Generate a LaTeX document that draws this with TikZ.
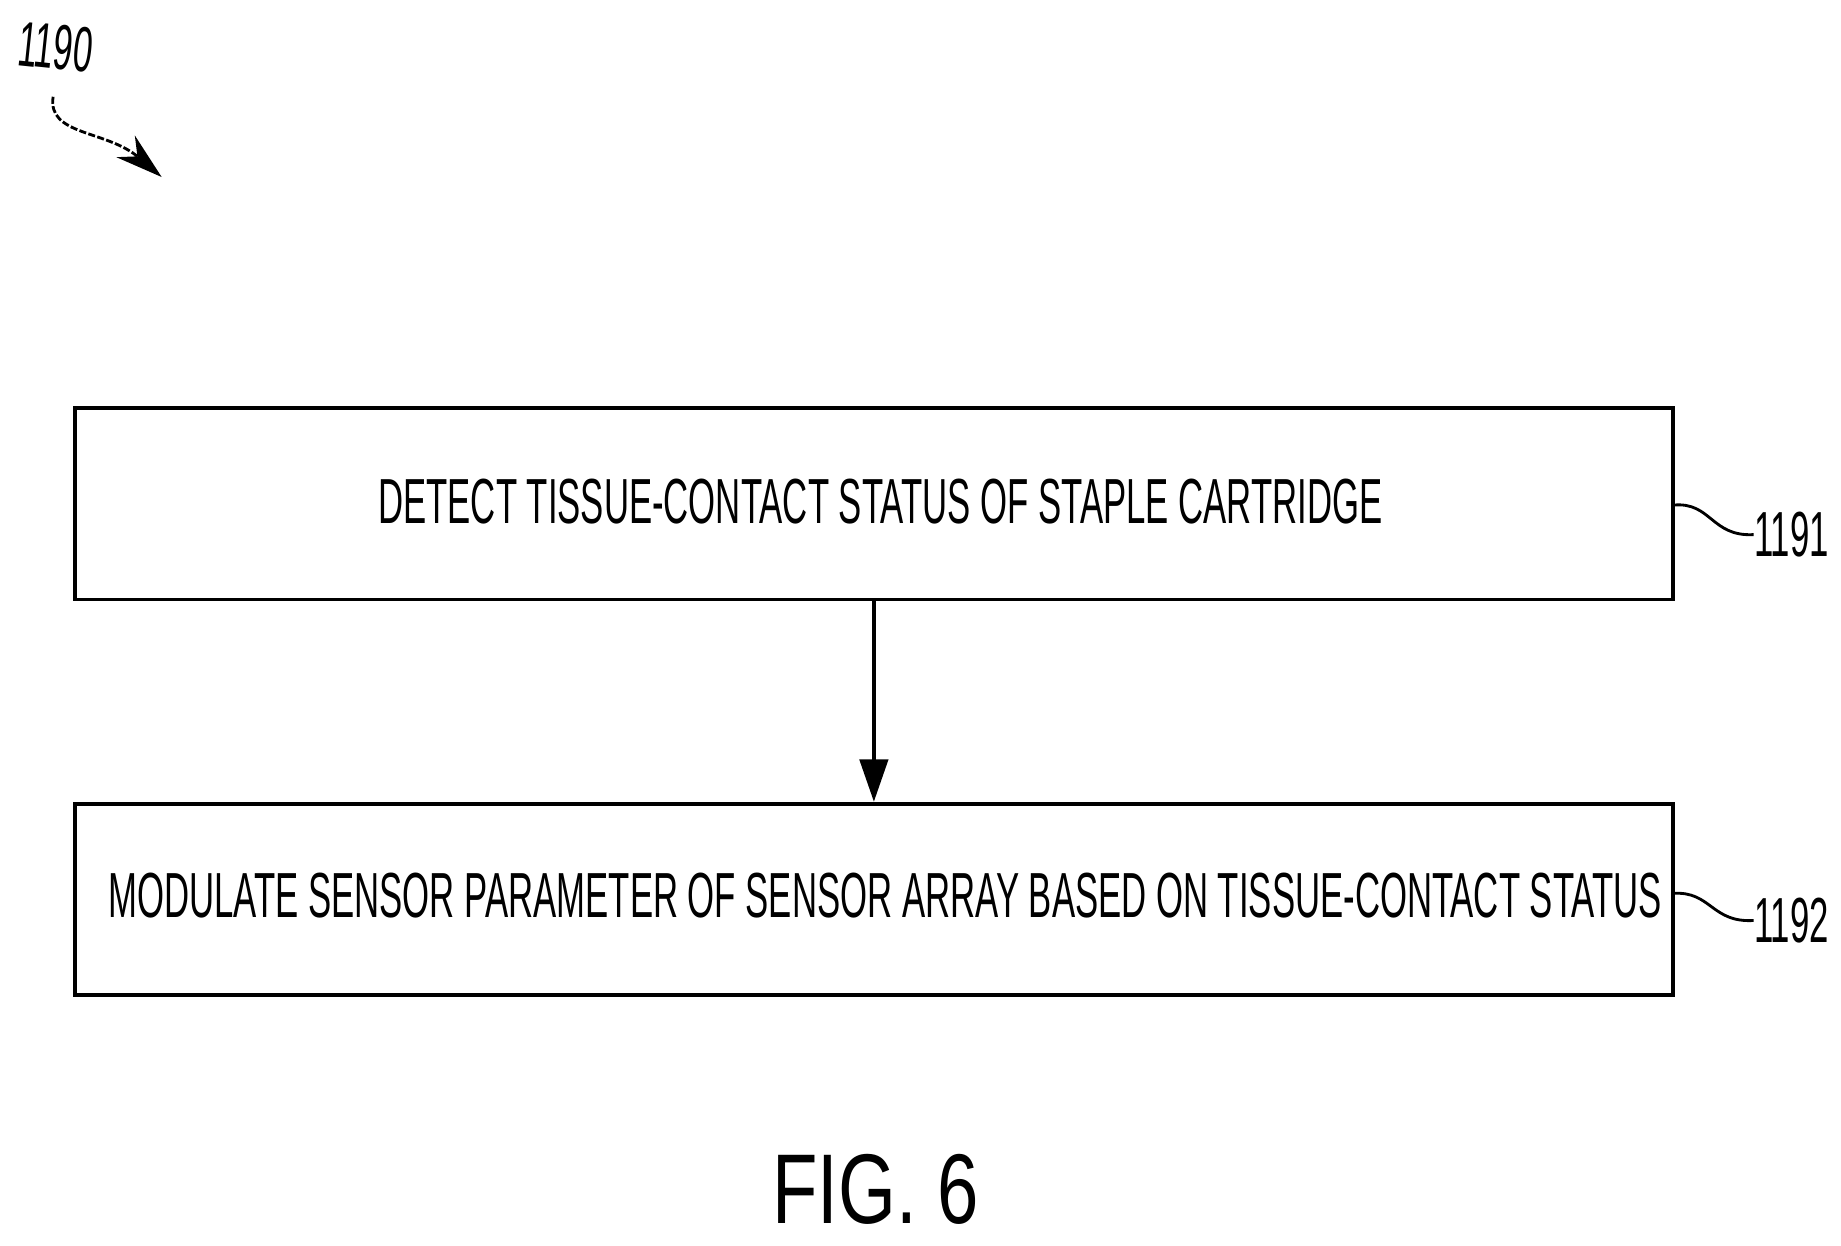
\documentclass[tikz,border=0pt]{standalone}
\usepackage{fontspec}
\setmainfont{Liberation Sans}
\newfontfamily\narrowfont[FakeStretch=0.545]{Liberation Sans}
\newfontfamily\figfont[FakeStretch=0.75]{Liberation Sans}
\usetikzlibrary{arrows.meta}
\begin{document}
\begin{tikzpicture}[x=0.5pt,y=-0.5pt,
  stepbox/.style={draw,line width=1.6pt,minimum width=677pt,minimum height=81pt,inner sep=0pt},
  steptext/.style={font=\narrowfont\fontsize{27}{30}\selectfont},
  reflabel/.style={font=\narrowfont\fontsize{27}{30}\selectfont,anchor=west,inner sep=0pt},
  leader/.style={line width=1.2pt}]
\useasboundingbox (0,0) rectangle (1560,1055);
\node[stepbox] (b1) at (740.5,427) {};
\node[steptext] (t1) at (746,425) {DETECT TISSUE-CONTACT STATUS OF STAPLE CARTRIDGE};
\node[stepbox] (b2) at (740.5,762) {};
\node[steptext] (t2) at (750,759) {MODULATE SENSOR PARAMETER OF SENSOR ARRAY BASED ON TISSUE-CONTACT STATUS};
\draw[line width=1.6pt,-{Triangle[length=18pt,width=12pt,open,fill=black]}] (b1.south) -- (b2.north);
\node[reflabel] (r1) at (1486,453) {1191};
\node[reflabel] (r2) at (1486,780) {1192};
\coordinate (e1) at (1418,428);
\coordinate (e2) at (1418,757);
\draw[leader] (e1) .. controls (1450,425) and (1450,455) .. (r1.west);
\draw[leader] (e2) .. controls (1450,755) and (1450,782) .. (r2.west);
\node[reflabel,anchor=center,rotate=-6] (r0) at (47,40) {1190};
\coordinate (a0) at (45,82);
\coordinate (a1) at (137,150);
\draw[line width=1.2pt,dash pattern=on 3pt off 1pt,-{Stealth[length=20pt,width=12pt]}] (a0) .. controls (40,115) and (90,110) .. (a1);
\node[font=\figfont\fontsize{42}{46}\selectfont] (fig) at (742,1008) {FIG. 6};
\end{tikzpicture}
\end{document}
